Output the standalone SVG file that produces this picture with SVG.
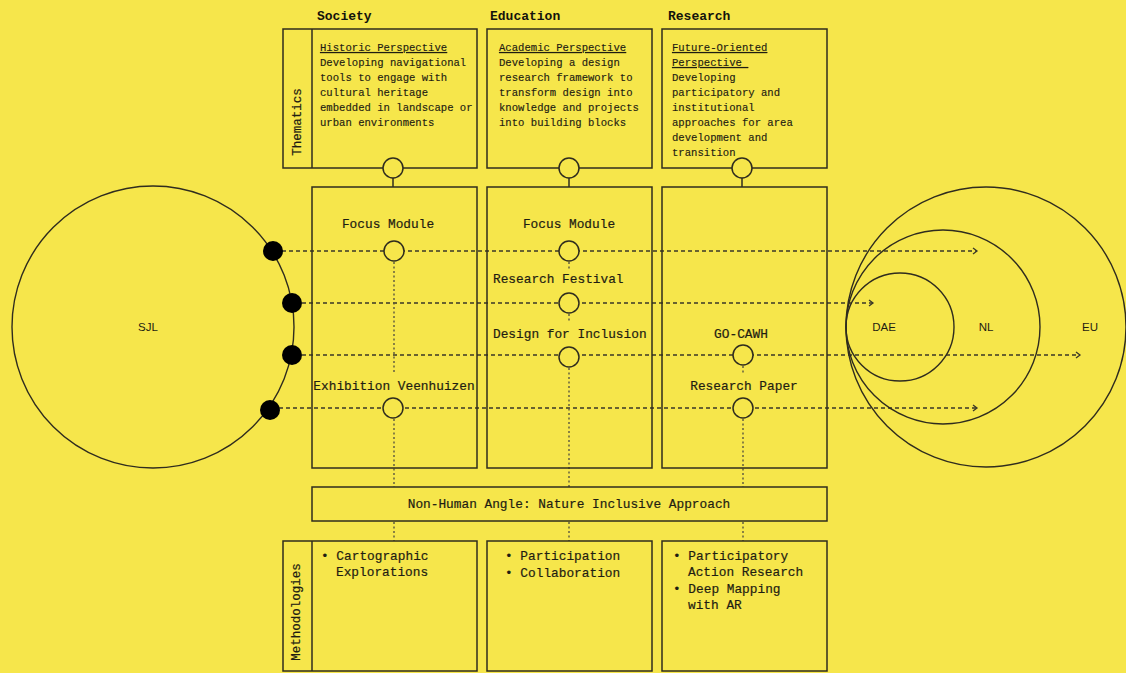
<svg xmlns="http://www.w3.org/2000/svg" width="1126" height="673" viewBox="0 0 1126 673">
<defs>
<style>
.bg{fill:#F6E64B}
.box{fill:none;stroke:#2f2c1e;stroke-width:1.5}
.ring{fill:none;stroke:#2f2c1e;stroke-width:1.4}
.node{fill:#F6E64B;stroke:#2f2c1e;stroke-width:1.5}
.dot{fill:#000}
.dash{fill:none;stroke:#3a3728;stroke-width:1.3;stroke-dasharray:4 3}
.vdot{fill:none;stroke:#5a5640;stroke-width:1.4;stroke-dasharray:2 2.5}
.solid{fill:none;stroke:#2f2c1e;stroke-width:1.5}
.head{font-family:"Liberation Mono","DejaVu Sans Mono",monospace;font-weight:bold;font-size:13px;fill:#14130c}
.body{font-family:"Liberation Mono","DejaVu Sans Mono",monospace;font-size:10.6px;fill:#1f1d12;stroke:#1f1d12;stroke-width:0.15}
.lab{font-family:"Liberation Mono","DejaVu Sans Mono",monospace;font-size:12.8px;fill:#1f1d12;stroke:#1f1d12;stroke-width:0.2}
.side{font-family:"Liberation Mono","DejaVu Sans Mono",monospace;font-size:12.5px;fill:#1f1d12;stroke:#1f1d12;stroke-width:0.2}
.geo{font-family:"Liberation Sans","DejaVu Sans",sans-serif;font-size:11.5px;fill:#1f1d12}
.u{text-decoration:underline}
</style>
<marker id="chev" markerWidth="8" markerHeight="8" refX="5" refY="4" orient="auto" markerUnits="userSpaceOnUse">
<path d="M1,1 L5,4 L1,7" fill="none" stroke="#3a3728" stroke-width="1.3"/>
</marker>
</defs>
<rect class="bg" x="0" y="0" width="1126" height="673"/>

<g id="connectors">
<line class="dash" x1="282" y1="251" x2="977" y2="251" marker-end="url(#chev)"/>
<line class="dash" x1="302" y1="303" x2="873" y2="303" marker-end="url(#chev)"/>
<line class="dash" x1="302" y1="355" x2="1080" y2="355" marker-end="url(#chev)"/>
<line class="dash" x1="279" y1="408" x2="977" y2="408" marker-end="url(#chev)"/>
<line class="solid" x1="393" y1="178" x2="393" y2="187"/>
<line class="solid" x1="569" y1="178" x2="569" y2="187"/>
<line class="solid" x1="742" y1="178" x2="742" y2="187"/>
<line class="vdot" x1="394" y1="262" x2="394" y2="373"/>
<line class="vdot" x1="394" y1="419" x2="394" y2="487"/>
<line class="vdot" x1="394" y1="522" x2="394" y2="541"/>
<line class="vdot" x1="569" y1="262" x2="569" y2="270"/>
<line class="vdot" x1="569" y1="314" x2="569" y2="322"/>
<line class="vdot" x1="569" y1="368" x2="569" y2="487"/>
<line class="vdot" x1="569" y1="522" x2="569" y2="541"/>
<line class="vdot" x1="743" y1="366" x2="743" y2="373"/>
<line class="vdot" x1="743" y1="419" x2="743" y2="487"/>
<line class="vdot" x1="743" y1="522" x2="743" y2="541"/>
</g>

<g id="sjl">
<circle class="ring" cx="153" cy="327" r="141"/>
<text class="geo" x="148" y="331" text-anchor="middle">SJL</text>
<circle class="dot" cx="273" cy="251" r="10"/>
<circle class="dot" cx="292" cy="303" r="10"/>
<circle class="dot" cx="292" cy="355" r="10"/>
<circle class="dot" cx="270" cy="410" r="10"/>
</g>

<g id="scales">
<circle class="ring" cx="986" cy="327" r="140"/>
<circle class="ring" cx="943" cy="327" r="97"/>
<circle class="ring" cx="900" cy="327" r="54"/>
<text class="geo" x="884" y="331" text-anchor="middle">DAE</text>
<text class="geo" x="986" y="331" text-anchor="middle">NL</text>
<text class="geo" x="1090" y="331" text-anchor="middle">EU</text>
</g>

<g id="headers">
<text class="head" x="317" y="20">Society</text>
<text class="head" x="490" y="20">Education</text>
<text class="head" x="668" y="20">Research</text>
</g>

<g id="thematics-society">
<rect class="box" x="283" y="29" width="194" height="139"/>
<line class="solid" x1="312" y1="29" x2="312" y2="168"/>
<text class="side" transform="translate(301,122) rotate(-90)" text-anchor="middle">Thematics</text>
<text class="body u" x="320" y="51">Historic Perspective</text>
<text class="body" x="320" y="66">Developing navigational</text>
<text class="body" x="320" y="81">tools to engage with</text>
<text class="body" x="320" y="96">cultural heritage</text>
<text class="body" x="320" y="111">embedded in landscape or</text>
<text class="body" x="320" y="126">urban environments</text>
<circle class="node" cx="393" cy="168" r="10"/>
</g>

<g id="thematics-education">
<rect class="box" x="487" y="29" width="165" height="139"/>
<text class="body u" x="499" y="51">Academic Perspective</text>
<text class="body" x="499" y="66">Developing a design</text>
<text class="body" x="499" y="81">research framework to</text>
<text class="body" x="499" y="96">transform design into</text>
<text class="body" x="499" y="111">knowledge and projects</text>
<text class="body" x="499" y="126">into building blocks</text>
<circle class="node" cx="569" cy="168" r="10"/>
</g>

<g id="thematics-research">
<rect class="box" x="662" y="29" width="165" height="139"/>
<text class="body u" x="672" y="51">Future-Oriented</text>
<text class="body u" x="672" y="66" xml:space="preserve">Perspective </text>
<text class="body" x="672" y="81">Developing</text>
<text class="body" x="672" y="96">participatory and</text>
<text class="body" x="672" y="111">institutional</text>
<text class="body" x="672" y="126">approaches for area</text>
<text class="body" x="672" y="141">development and</text>
<text class="body" x="672" y="156">transition</text>
<circle class="node" cx="742" cy="168" r="10"/>
</g>

<g id="projects-society">
<rect class="box" x="312" y="187" width="165" height="281"/>
<text class="lab" x="388" y="228" text-anchor="middle">Focus Module</text>
<circle class="node" cx="394" cy="251" r="10"/>
<text class="lab" x="394" y="390" text-anchor="middle">Exhibition Veenhuizen</text>
<circle class="node" cx="393" cy="408" r="10"/>
</g>

<g id="projects-education">
<rect class="box" x="487" y="187" width="165" height="281"/>
<text class="lab" x="569" y="228" text-anchor="middle">Focus Module</text>
<circle class="node" cx="569" cy="251" r="10"/>
<text class="lab" x="493" y="283">Research Festival</text>
<circle class="node" cx="569" cy="303" r="10"/>
<text class="lab" x="493" y="338">Design for Inclusion</text>
<circle class="node" cx="569" cy="357" r="10"/>
</g>

<g id="projects-research">
<rect class="box" x="662" y="187" width="165" height="281"/>
<text class="lab" x="741" y="338" text-anchor="middle">GO-CAWH</text>
<circle class="node" cx="743" cy="355" r="10"/>
<text class="lab" x="744" y="390" text-anchor="middle">Research Paper</text>
<circle class="node" cx="743" cy="408" r="10"/>
</g>

<g id="non-human">
<rect class="box" x="312" y="487" width="515" height="34"/>
<text class="lab" x="569" y="508" text-anchor="middle">Non-Human Angle: Nature Inclusive Approach</text>
</g>

<g id="methodologies-society">
<rect class="box" x="283" y="541" width="194" height="130"/>
<line class="solid" x1="312" y1="541" x2="312" y2="671"/>
<text class="side" transform="translate(300,612) rotate(-90)" text-anchor="middle">Methodologies</text>
<text class="lab" x="321" y="560">• Cartographic</text>
<text class="lab" x="336" y="576">Explorations</text>
</g>

<g id="methodologies-education">
<rect class="box" x="487" y="541" width="165" height="130"/>
<text class="lab" x="505" y="560">• Participation</text>
<text class="lab" x="505" y="577">• Collaboration</text>
</g>

<g id="methodologies-research">
<rect class="box" x="662" y="541" width="165" height="130"/>
<text class="lab" x="673" y="560">• Participatory</text>
<text class="lab" x="688" y="576">Action Research</text>
<text class="lab" x="673" y="593">• Deep Mapping</text>
<text class="lab" x="688" y="609">with AR</text>
</g>
</svg>
